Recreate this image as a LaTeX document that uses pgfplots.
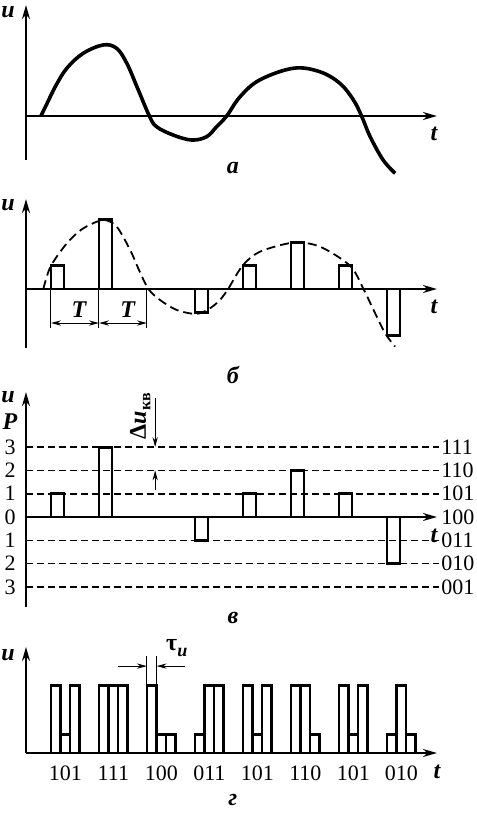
\documentclass[border=0pt]{standalone}
\usepackage{fontspec}
\setmainfont{Liberation Serif}
\usepackage{pgfplots}
\pgfplotsset{compat=1.18}
\usetikzlibrary{arrows.meta}

\pgfplotsset{panel/.style={hide axis, x=24pt, y=11.65pt, xmin=-0.2, xmax=10, clip=false, anchor=origin}}
\tikzset{
  ax/.style={line width=1pt, -{Stealth[length=7pt,width=4pt]}},
  thinarr/.style={line width=0.5pt, -{Stealth[length=5pt,width=2.6pt]}},
  lab/.style={font=\fontsize{12}{14}\selectfont\bfseries\itshape},
  num/.style={font=\fontsize{11}{13}\selectfont}
}

\begin{document}
\begin{tikzpicture}[font=\fontsize{12}{14}\selectfont]
\useasboundingbox (0,0) rectangle (238.5pt,-408pt);

% ---------------- panel a ----------------
\begin{axis}[panel, at={(1.5pt,-58pt)}, ymin=-3, ymax=5]
\draw[ax] (axis cs:0.479,-1.89) -- (axis cs:0.479,4.76);
\draw[ax] (axis cs:0.479,0) -- (axis cs:9.04,0);
\addplot[smooth, tension=0.6, line width=1.8pt] coordinates {
(0.79,0) (0.92,0.55) (1.10,1.30) (1.33,2.05) (1.67,2.69) (2.09,3.05) (2.37,2.90) (2.58,2.26)
(2.79,1.26) (3.05,0) (3.20,-0.46) (3.55,-0.82) (3.93,-1.03) (4.24,-0.89) (4.45,-0.46)
(4.66,0) (4.94,0.83) (5.35,1.55) (6.05,2.05) (6.60,1.90) (7.02,1.40) (7.30,0.69)
(7.47,0) (7.65,-0.89) (7.92,-1.89) (8.17,-2.46)};
\node[lab] at (axis cs:0.104,4.45) {u};
\node[lab] at (axis cs:8.98,-0.75) {t};
\node[lab] at (axis cs:4.79,-2.23) {а};
\end{axis}

% ---------------- panel b ----------------
\begin{axis}[panel, at={(1.5pt,-144.5pt)}, ymin=-3, ymax=4]
\draw[ax] (axis cs:0.479,-2.53) -- (axis cs:0.479,3.86);
\draw[ax] (axis cs:0.479,0) -- (axis cs:9.04,0);
\addplot[smooth, line width=0.9pt, dash pattern=on 4.5pt off 2.5pt] coordinates {
(0.84,0) (0.99,0.96) (1.33,1.96) (1.67,2.6) (2.09,2.96) (2.37,2.67) (2.65,1.67)
(2.85,0.74) (3.03,0) (3.27,-0.47) (3.62,-0.9) (4.03,-1.07) (4.31,-0.83) (4.52,-0.47)
(4.69,0) (4.99,1.0) (5.35,1.6) (6.05,1.99) (6.6,1.82) (7.23,1.0) (7.51,0)
(7.72,-0.9) (7.96,-1.9) (8.17,-2.47)};
\addplot[ybar, bar width=0.27, bar shift=0.135, draw=black, fill=none, line width=1.4pt] coordinates {
(1,1) (2,3) (4,-1) (5,1) (6,2) (7,1) (8,-2)};
\draw[line width=0.5pt] (axis cs:1,0) -- (axis cs:1,-1.67);
\draw[line width=0.5pt] (axis cs:2,0) -- (axis cs:2,-1.67);
\draw[line width=0.5pt] (axis cs:3,0) -- (axis cs:3,-1.67);
\draw[line width=0.5pt, {Stealth[length=5pt,width=2.6pt]}-{Stealth[length=5pt,width=2.6pt]}] (axis cs:1,-1.46) -- (axis cs:2,-1.46);
\draw[line width=0.5pt, {Stealth[length=5pt,width=2.6pt]}-{Stealth[length=5pt,width=2.6pt]}] (axis cs:2,-1.46) -- (axis cs:3,-1.46);
\node[lab] at (axis cs:1.58,-0.9) {T};
\node[lab] at (axis cs:2.6,-0.9) {T};
\node[lab] at (axis cs:0.104,3.6) {u};
\node[lab] at (axis cs:8.98,-0.77) {t};
\node[lab] at (axis cs:4.79,-3.69) {б};
\end{axis}

% ---------------- panel c ----------------
\begin{axis}[panel, at={(1.5pt,-258.5pt)}, ymin=-4.5, ymax=5.5]
\pgfplotsinvokeforeach{-3,-2,-1,1,2,3}{
  \draw[line width=0.8pt, dash pattern=on 3.5pt off 2pt] (axis cs:0.479,#1) -- (axis cs:9.08,#1);
}
\draw[ax] (axis cs:0.479,-3.86) -- (axis cs:0.479,5.36);
\draw[ax] (axis cs:0.479,0) -- (axis cs:9.04,0);
\addplot[ybar, bar width=0.27, bar shift=0.135, draw=black, fill=none, line width=1.4pt] coordinates {
(1,1) (2,3) (3,0) (4,-1) (5,1) (6,2) (7,1) (8,-2)};
\draw[thinarr] (axis cs:3.17,5.1) -- (axis cs:3.17,3);
\draw[thinarr] (axis cs:3.17,1.16) -- (axis cs:3.17,2);
\node[rotate=90, font=\fontsize{12}{14}\selectfont\bfseries] at (axis cs:2.86,4.33) {Δ\textit{u}\raisebox{-0.4ex}{\fontsize{8}{9}\selectfont кв}};
\node[lab] at (axis cs:0.104,5.15) {u};
\node[lab] at (axis cs:0.146,4.08) {P};
\node[num] at (axis cs:0.146,3) {3};
\node[num] at (axis cs:0.146,2) {2};
\node[num] at (axis cs:0.146,1) {1};
\node[num] at (axis cs:0.146,0) {0};
\node[num] at (axis cs:0.146,-1) {1};
\node[num] at (axis cs:0.146,-2) {2};
\node[num] at (axis cs:0.146,-3) {3};
\node[num, anchor=west, inner xsep=0pt] at (axis cs:9.125,3) {111};
\node[num, anchor=west, inner xsep=0pt] at (axis cs:9.125,2) {110};
\node[num, anchor=west, inner xsep=0pt] at (axis cs:9.125,1) {101};
\node[num, anchor=west, inner xsep=0pt] at (axis cs:9.125,0) {100};
\node[num, anchor=west, inner xsep=0pt] at (axis cs:9.125,-1) {011};
\node[num, anchor=west, inner xsep=0pt] at (axis cs:9.125,-2) {010};
\node[num, anchor=west, inner xsep=0pt] at (axis cs:9.125,-3) {001};
\node[lab] at (axis cs:8.98,-0.8) {t};
\node[lab] at (axis cs:4.79,-4.33) {в};
\end{axis}

% ---------------- panel d ----------------
\begin{axis}[panel, at={(1.5pt,-376.5pt)}, ymin=-2.5, ymax=5]
\draw[ax] (axis cs:0.479,0) -- (axis cs:0.479,4.55);
\draw[ax] (axis cs:0.479,0) -- (axis cs:9.04,0);
\addplot[ybar, bar width=0.2, draw=black, fill=none, line width=1.3pt] coordinates {
(1.1,2.9) (1.3,0.8) (1.5,2.9)
(2.1,2.9) (2.3,2.9) (2.5,2.9)
(3.1,2.9) (3.3,0.8) (3.5,0.8)
(4.1,0.8) (4.3,2.9) (4.5,2.9)
(5.1,2.9) (5.3,0.8) (5.5,2.9)
(6.1,2.9) (6.3,2.9) (6.5,0.8)
(7.1,2.9) (7.3,0.8) (7.5,2.9)
(8.1,0.8) (8.3,2.9) (8.5,0.8)};
\draw[line width=0.5pt] (axis cs:3,2.9) -- (axis cs:3,4.16);
\draw[line width=0.5pt] (axis cs:3.2,2.9) -- (axis cs:3.2,4.16);
\draw[thinarr] (axis cs:2.4,3.73) -- (axis cs:3,3.73);
\draw[thinarr] (axis cs:3.79,3.73) -- (axis cs:3.2,3.73);
\node[font=\fontsize{12}{14}\selectfont\bfseries] at (axis cs:3.62,4.5) {τ\raisebox{-0.5ex}{\fontsize{9}{10}\selectfont\itshape и}};
\node[num] at (axis cs:1.3,-0.86) {101};
\node[num] at (axis cs:2.3,-0.86) {111};
\node[num] at (axis cs:3.3,-0.86) {100};
\node[num] at (axis cs:4.3,-0.86) {011};
\node[num] at (axis cs:5.3,-0.86) {101};
\node[num] at (axis cs:6.3,-0.86) {110};
\node[num] at (axis cs:7.3,-0.86) {101};
\node[num] at (axis cs:8.3,-0.86) {010};
\node[lab] at (axis cs:0.104,4.2) {u};
\node[lab] at (axis cs:9.04,-0.8) {t};
\node[lab] at (axis cs:4.79,-2.02) {г};
\end{axis}
\end{tikzpicture}
\end{document}
